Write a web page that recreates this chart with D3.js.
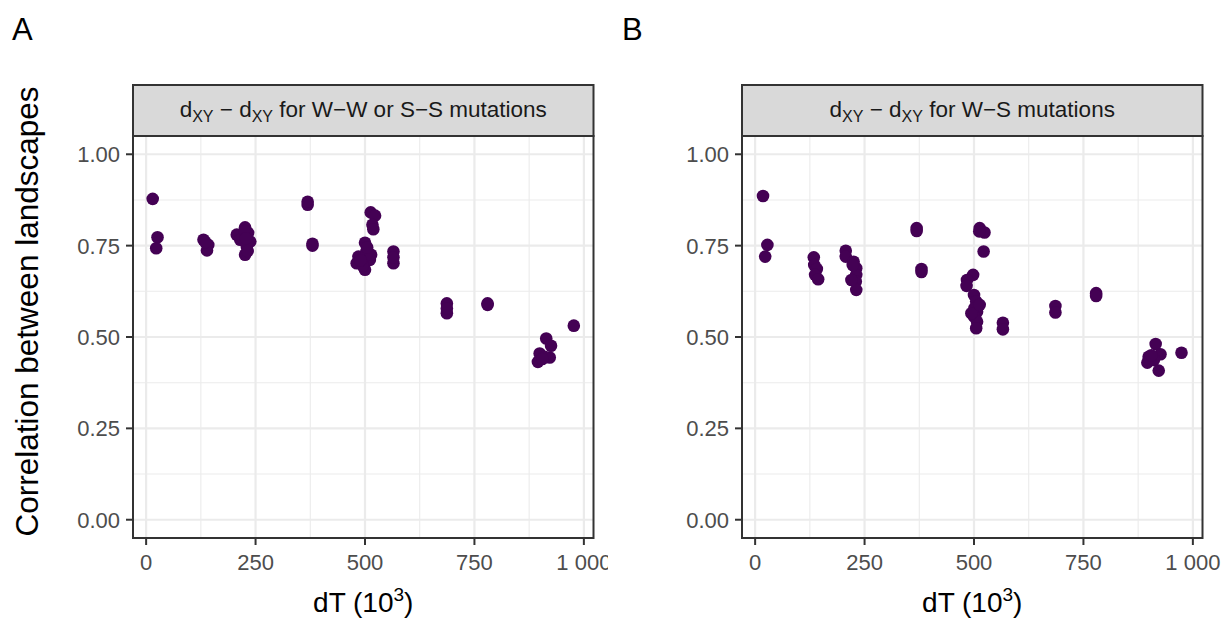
<!DOCTYPE html>
<html>
<head>
<meta charset="utf-8">
<script src="https://cdn.jsdelivr.net/npm/d3@7"></script>
<style>
  body { margin: 0; background: #fff; }
  text { font-family: "Liberation Sans", Arial, Helvetica, sans-serif; }
</style>
</head>
<body>
<svg id="chart" width="1226" height="619"></svg>
<script>
// dT (10^3) and correlation
const dtA  = [15, 26, 23, 131, 142, 139, 135, 207, 226, 233, 230, 226, 238, 215, 225, 232, 228,
              369, 369, 380, 380, 513, 523, 517, 519, 500, 485, 503, 511, 500, 481, 514, 495, 505, 490,
              565, 565, 565, 687, 687, 687, 780, 780, 977, 914, 925, 899, 895, 922, 910, 905];
const corA = [0.878, 0.773, 0.743, 0.766, 0.752, 0.737, 0.760, 0.780, 0.800, 0.785, 0.747, 0.725, 0.761, 0.766, 0.790, 0.735, 0.770,
              0.862, 0.870, 0.750, 0.755, 0.841, 0.832, 0.807, 0.795, 0.758, 0.720, 0.734, 0.711, 0.684, 0.702, 0.725, 0.695, 0.745, 0.710,
              0.734, 0.702, 0.718, 0.592, 0.565, 0.578, 0.588, 0.592, 0.531, 0.496, 0.476, 0.455, 0.432, 0.444, 0.446, 0.440];

const dtB  = [18, 28, 23, 134, 135, 141, 137, 144, 207, 207, 225, 231, 231, 230, 231, 220, 223,
              369, 369, 380, 380, 513, 524, 512, 522, 498, 484, 483,
              500, 505, 501, 507, 500, 507, 505, 494, 513, 566, 566, 686, 686, 779, 779,
              974, 915, 926, 899, 896, 911, 922, 905];
const corB = [0.886, 0.752, 0.720, 0.718, 0.697, 0.686, 0.670, 0.658, 0.736, 0.720, 0.706, 0.688, 0.670, 0.652, 0.629, 0.656, 0.697,
              0.798, 0.790, 0.686, 0.678, 0.798, 0.786, 0.789, 0.734, 0.670, 0.656, 0.640,
              0.615, 0.597, 0.579, 0.569, 0.556, 0.542, 0.524, 0.565, 0.588, 0.539, 0.521, 0.585, 0.567, 0.620, 0.612,
              0.457, 0.481, 0.453, 0.446, 0.430, 0.437, 0.408, 0.450];

const panelLabels = ["A", "B"];
const stripPairs  = ["W\u2212W or S\u2212S", "W\u2212S"];
const xTicks = [0, 250, 500, 750, 1000];
const xTickLabels = ["0", "250", "500", "750", "1\u00a0000"];
const xMinor = [125, 375, 625, 875];
const yTicks = [0, 0.25, 0.5, 0.75, 1];
const yTickLabels = ["0.00", "0.25", "0.50", "0.75", "1.00"];
const yMinor = [0.125, 0.375, 0.625, 0.875];

const svg = d3.select("#chart");
const panelW = 460.5, panelTop = 136, panelBottom = 538, stripTop = 85;
const offsets = [133, 742];

const y = d3.scaleLinear().domain([-0.05, 1.05]).range([panelBottom, panelTop]);

svg.append("defs").append("clipPath").attr("id", "clipA")
  .append("rect").attr("x", 0).attr("y", 0).attr("width", 608).attr("height", 619);

function drawPanel(i, dt, cor){
  let left = offsets[i];
  let x = d3.scaleLinear().domain([-30, 1022]).range([left, left + panelW]);
  let g = svg.append("g");
  if (i == 0) g.attr("clip-path", "url(#clipA)");

  // panel background + grid
  g.append("rect").attr("x", left).attr("y", panelTop).attr("width", panelW)
    .attr("height", panelBottom - panelTop).attr("fill", "#fff");

  g.selectAll(".xminor").data(xMinor).enter().append("line")
    .attr("x1", d => x(d)).attr("x2", d => x(d)).attr("y1", panelTop).attr("y2", panelBottom)
    .attr("stroke", "#EBEBEB").attr("stroke-width", 1.1);
  g.selectAll(".yminor").data(yMinor).enter().append("line")
    .attr("y1", d => y(d)).attr("y2", d => y(d)).attr("x1", left).attr("x2", left + panelW)
    .attr("stroke", "#EBEBEB").attr("stroke-width", 1.1);
  g.selectAll(".xmajor").data(xTicks).enter().append("line")
    .attr("x1", d => x(d)).attr("x2", d => x(d)).attr("y1", panelTop).attr("y2", panelBottom)
    .attr("stroke", "#EBEBEB").attr("stroke-width", 2.2);
  g.selectAll(".ymajor").data(yTicks).enter().append("line")
    .attr("y1", d => y(d)).attr("y2", d => y(d)).attr("x1", left).attr("x2", left + panelW)
    .attr("stroke", "#EBEBEB").attr("stroke-width", 2.2);

  // points
  g.selectAll(".pt").data(dt.map((d, k) => [d, cor[k]])).enter().append("circle")
    .attr("cx", d => x(d[0])).attr("cy", d => y(d[1])).attr("r", 6.3)
    .attr("fill", "#440154");

  // panel border
  g.append("rect").attr("x", left).attr("y", panelTop).attr("width", panelW)
    .attr("height", panelBottom - panelTop).attr("fill", "none")
    .attr("stroke", "#333333").attr("stroke-width", 2);

  // strip
  g.append("rect").attr("x", left).attr("y", stripTop).attr("width", panelW)
    .attr("height", panelTop - stripTop).attr("fill", "#D9D9D9")
    .attr("stroke", "#333333").attr("stroke-width", 2);
  let st = g.append("text").attr("x", left + panelW/2).attr("y", 117)
    .attr("text-anchor", "middle").attr("fill", "#1A1A1A").style("font-size", "22.5px");
  st.append("tspan").text("d");
  st.append("tspan").attr("dy", 5).style("font-size", "16px").text("XY");
  st.append("tspan").attr("dy", -5).text(" \u2212 d");
  st.append("tspan").attr("dy", 5).style("font-size", "16px").text("XY");
  st.append("tspan").attr("dy", -5).text(" for " + stripPairs[i] + " mutations");

  // x axis ticks + labels
  g.selectAll(".xt").data(xTicks).enter().append("line")
    .attr("x1", d => x(d)).attr("x2", d => x(d)).attr("y1", panelBottom).attr("y2", panelBottom + 7)
    .attr("stroke", "#333333").attr("stroke-width", 2);
  g.selectAll(".xl").data(xTicks).enter().append("text")
    .attr("x", d => x(d)).attr("y", 570).attr("text-anchor", "middle")
    .attr("fill", "#4D4D4D").style("font-size", "22px")
    .text((d, k) => xTickLabels[k]);

  // y axis ticks + labels
  g.selectAll(".yt").data(yTicks).enter().append("line")
    .attr("x1", left - 7).attr("x2", left).attr("y1", d => y(d)).attr("y2", d => y(d))
    .attr("stroke", "#333333").attr("stroke-width", 2);
  g.selectAll(".yl").data(yTicks).enter().append("text")
    .attr("x", left - 13).attr("y", d => y(d) + 8).attr("text-anchor", "end")
    .attr("fill", "#4D4D4D").style("font-size", "22px")
    .text((d, k) => yTickLabels[k]);

  // x title
  let xt = g.append("text").attr("x", left + panelW/2).attr("y", 612)
    .attr("text-anchor", "middle").attr("fill", "#000").style("font-size", "28px");
  xt.append("tspan").text("dT (10");
  xt.append("tspan").attr("dy", -11).style("font-size", "19px").text("3");
  xt.append("tspan").attr("dy", 11).text(")");

  // panel letter
  svg.append("text").attr("x", i == 0 ? 12 : 622).attr("y", 40)
    .attr("fill", "#000").style("font-size", "31px").text(panelLabels[i]);
}

drawPanel(0, dtA, corA);
drawPanel(1, dtB, corB);

// shared y title on the left, centred over strip + panel
svg.append("text")
  .attr("transform", "translate(38," + (stripTop + panelBottom)/2 + ") rotate(-90)")
  .attr("text-anchor", "middle").attr("fill", "#000").style("font-size", "31.5px")
  .text("Correlation between landscapes");
</script>
</body>
</html>
